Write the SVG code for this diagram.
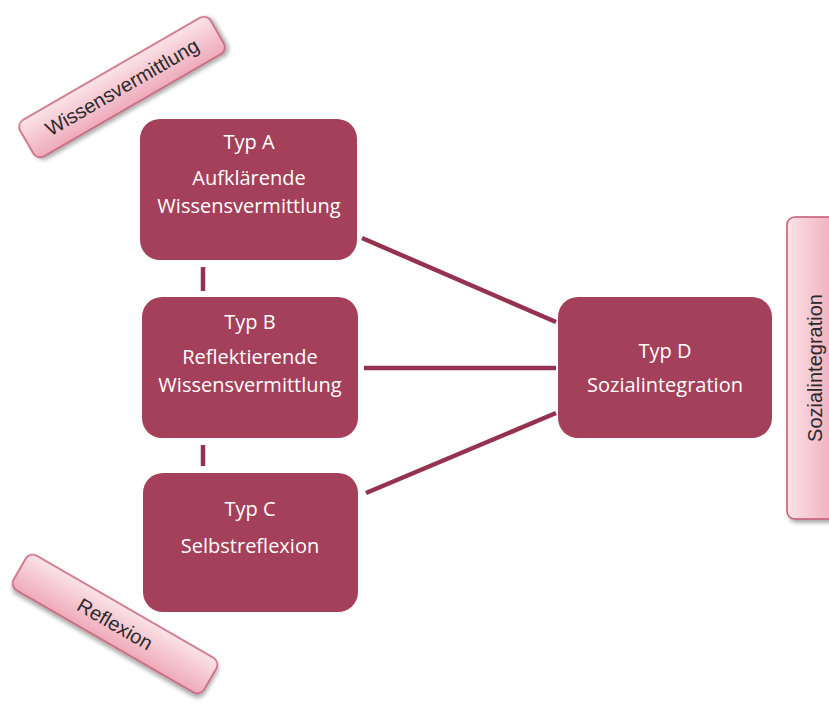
<svg xmlns="http://www.w3.org/2000/svg" width="829" height="708" viewBox="0 0 829 708">
<defs>
<linearGradient id="pk" x1="0" y1="0" x2="0" y2="1">
<stop offset="0" stop-color="#FBE3E8"/>
<stop offset="1" stop-color="#EFAABA"/>
</linearGradient>
<linearGradient id="pkv" x1="0" y1="0" x2="1" y2="0">
<stop offset="0" stop-color="#FBE3E8"/>
<stop offset="1" stop-color="#EFAABA"/>
</linearGradient>
<filter id="sh" x="-20%" y="-20%" width="140%" height="140%">
<feDropShadow dx="2" dy="3" stdDeviation="2" flood-color="#000" flood-opacity="0.35"/>
</filter>
</defs>
<style>
.box{fill:#A4405A;}
.wt{fill:#FFFFFF;font-family:"Open Sans","Liberation Sans",sans-serif;font-size:20px;text-anchor:middle;}
.lbl{stroke:#C45A72;stroke-width:1.5;}
.lt{fill:#2A2A2A;font-family:"Liberation Sans",Arial,sans-serif;font-size:20px;text-anchor:middle;}
.con{stroke:#943250;stroke-width:4.5;fill:none;}
</style>
<rect width="829" height="708" fill="#FFFFFF"/>
<g id="connectors">
<line class="con" x1="203" y1="267" x2="203" y2="291"/>
<line class="con" x1="203" y1="445" x2="203" y2="466"/>
<line class="con" x1="362" y1="238" x2="556" y2="322"/>
<line class="con" x1="364" y1="368" x2="556" y2="368"/>
<line class="con" x1="366" y1="493" x2="556" y2="413"/>
</g>
<g id="typA">
<rect class="box" x="140" y="119" width="217" height="141" rx="20"/>
<text class="wt" x="249" y="149">Typ A</text>
<text class="wt" x="249" y="185">Aufklärende</text>
<text class="wt" x="249" y="213">Wissensvermittlung</text>
</g>
<g id="typB">
<rect class="box" x="142" y="297" width="216" height="141" rx="20"/>
<text class="wt" x="250" y="329">Typ B</text>
<text class="wt" x="250" y="364">Reflektierende</text>
<text class="wt" x="250" y="392">Wissensvermittlung</text>
</g>
<g id="typC">
<rect class="box" x="143" y="473" width="215" height="139" rx="20"/>
<text class="wt" x="250" y="516">Typ C</text>
<text class="wt" x="250" y="553">Selbstreflexion</text>
</g>
<g id="typD">
<rect class="box" x="558" y="297" width="214" height="141" rx="20"/>
<text class="wt" x="665" y="358">Typ D</text>
<text class="wt" x="665" y="392">Sozialintegration</text>
</g>
<g id="wissensvermittlung" transform="translate(122,87) rotate(-30)">
<rect class="lbl" x="-110" y="-21" width="220" height="42" rx="8" fill="url(#pk)" filter="url(#sh)"/>
<text class="lt" x="0" y="7">Wissensvermittlung</text>
</g>
<g id="reflexion" transform="translate(115,624) rotate(30)">
<rect class="lbl" x="-110" y="-20" width="220" height="40" rx="8" fill="url(#pk)" filter="url(#sh)"/>
<text class="lt" x="0" y="7">Reflexion</text>
</g>
<g id="sozialintegration">
<rect class="lbl" x="787" y="217" width="50" height="302" rx="8" fill="url(#pkv)" filter="url(#sh)"/>
<text class="lt" transform="translate(822,368) rotate(-90)" x="0" y="0">Sozialintegration</text>
</g>
</svg>
